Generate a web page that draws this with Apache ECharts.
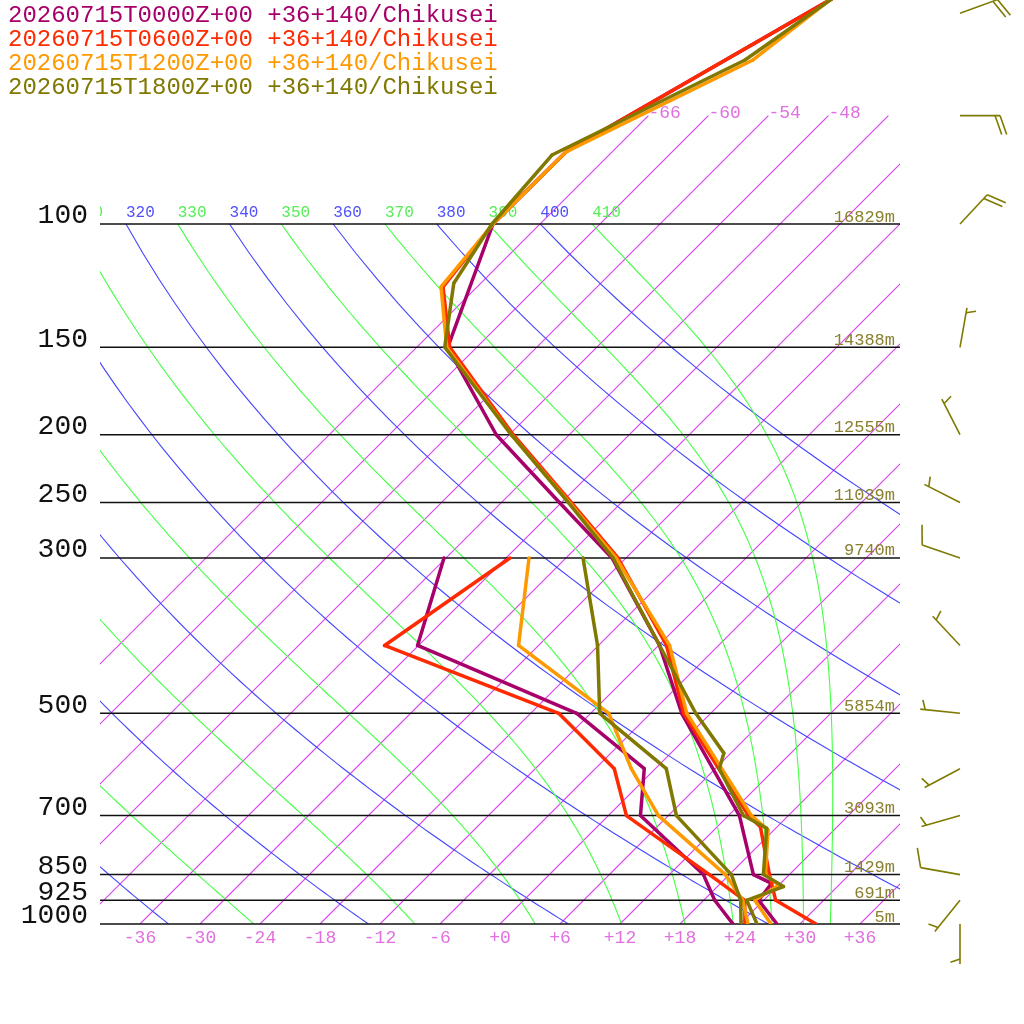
<!DOCTYPE html>
<html>
<head>
<meta charset="utf-8">
<script src="https://cdn.jsdelivr.net/npm/echarts@6/dist/echarts.min.js"></script>
<style>
  html, body { margin: 0; padding: 0; background: #fff; }
  #main { width: 1024px; height: 1024px; }
</style>
</head>
<body>
<div id="main"></div>
<script>
// standard levels drawn as horizontal lines, with their heights
const levels = [100, 150, 200, 250, 300, 500, 700, 850, 925, 1000];
const heights = ['16829m', '14388m', '12555m', '11039m', '9740m', '5854m', '3093m', '1429m', '691m', '5m'];

const titles = [
  '20260715T0000Z+00 +36+140/Chikusei',
  '20260715T0600Z+00 +36+140/Chikusei',
  '20260715T1200Z+00 +36+140/Chikusei',
  '20260715T1800Z+00 +36+140/Chikusei'
];
const colors = ['#a8006a', '#ff2a00', '#ff9900', '#807800'];

// temperature profiles (hPa, degC)
const tempP00 = [42, 78.8, 100, 150, 200, 250, 300, 400, 500, 700, 850, 875, 925, 1000];
const tempT00 = [-56.5, -70.6, -70.7, -62.9, -49.3, -36.2, -25.4, -11.9, -2.9, 13.1, 20.4, 23.1, 23.5, 27.7];
const tempP06 = [42, 78.8, 100, 123, 150, 200, 250, 300, 400, 500, 700, 726, 850, 925, 1000];
const tempT06 = [-56.5, -70.6, -70.7, -69.4, -62.7, -47.6, -35.0, -24.8, -11.2, -2.7, 14.0, 16.3, 22.0, 25.2, 31.6];
const tempP12 = [42, 58.3, 78.8, 100, 123, 150, 200, 250, 300, 400, 500, 700, 734, 850, 880, 925, 1000];
const tempT12 = [-58.3, -61.1, -70.6, -70.7, -69.6, -63.0, -47.8, -35.2, -25.0, -10.9, -2.4, 14.3, 17.4, 21.6, 24.0, 23.1, 27.1];
const tempP18 = [42, 58.3, 79.7, 100, 121.5, 150, 200, 250, 300, 500, 570, 600, 700, 730, 850, 884, 925, 1000];
const tempT18 = [-57.7, -61.9, -71.7, -70.8, -68.7, -63.2, -47.8, -35.3, -25.3, -1.5, 5.3, 6.4, 13.5, 17.1, 21.4, 24.6, 22.3, 25.7];

// dewpoint profiles
const dewP = [300, 400, 500, 600, 700, 850, 925, 1000];
const dewT00 = [-42.2, -36.1, -13.4, -1.1, 3.2, 15.4, 19.1, 23.3];
const dewT06 = [-35.6, -39.4, -15.2, -4.1, 1.8, 16.0, 22.1, 24.5];
const dewT12 = [-33.7, -26.0, -10.2, -2.4, 5.0, 17.6, 21.9, 24.8];
const dewT18 = [-28.3, -18.1, -11.1, 1.1, 6.8, 18.2, 21.7, 24.1];

// winds (1800Z)
const windP = [50, 70, 100, 150, 200, 250, 300, 400, 500, 600, 700, 850, 925, 1000];
const windDir = [70, 90, 43, 10, 333, 297, 289, 317, 276, 242, 254, 280, 219, 180];
const windSpd = [20, 20, 20, 5, 5, 5, 10, 5, 5, 5, 5, 10, 5, 5];

// reference lines of the diagram
const isotherms = [-66, -60, -54, -48, -42, -36, -30, -24, -18, -12, -6, 0, 6, 12, 18, 24, 30, 36];
const dryThetas = [240, 260, 280, 300, 320, 340, 360, 380, 400];
const moistThetas = [250, 270, 290, 310, 330, 350, 370, 390, 410];

const MONO = '"Liberation Mono", "DejaVu Sans Mono", monospace';

// dry adiabat: T = theta * (p/1000)^k
function dryLine(theta) {
  const pts = [];
  for (let p = 100; p <= 1000; p += 10) {
    pts.push([theta * Math.pow(p / 1000, 0.2857) - 273.15, p]);
  }
  return pts;
}

// pseudo-adiabatic lapse rate dT/dp
function moistRate(T, p) {
  const tc = T - 273.15;
  const es = 6.112 * Math.exp(17.67 * tc / (tc + 243.5));
  const rs = 0.622 * es / (p - es);
  const Rd = 287.04, Cp = 1005.7, L = 2.501e6;
  return (Rd * T + L * rs) / (p * (Cp + L * L * rs * 0.622 / (Rd * T * T)));
}

function moistLine(theta) {
  let p = 100;
  let T = theta * Math.pow(p / 1000, 0.2857);
  const pts = [[T - 273.15, p]];
  const dp = 5;
  while (p < 1000) {
    const k1 = moistRate(T, p);
    const k2 = moistRate(T + k1 * dp / 2, p + dp / 2);
    T += k2 * dp;
    p += dp;
    pts.push([T - 273.15, p]);
  }
  return pts;
}

const isoLines = isotherms.map(t => [[t, 70], [t, 1000]]);
const dryLines = dryThetas.map(dryLine);
const moistLines = moistThetas.map(moistLine);

// skew: isotherms lean 45 degrees
const skew = (api, t, p) => {
  const a = api.coord([t, p]);
  const b = api.coord([t, 1000]);
  return [a[0] + (b[1] - a[1]), a[1]];
};

const empty = { type: 'group', children: [] };

function profile(P, T, color, z) {
  return {
    type: 'custom',
    clip: true,
    silent: true,
    z,
    data: P.map((p, i) => [T[i], p]),
    renderItem(params, api) {
      const i = params.dataIndex;
      if (i === 0) return empty;
      const a = skew(api, T[i - 1], P[i - 1]);
      const b = skew(api, api.value(0), api.value(1));
      return {
        type: 'polyline',
        shape: { points: [a, b] },
        style: { stroke: color, lineWidth: 3.5, lineCap: 'round', fill: null }
      };
    }
  };
}

// a family of thin reference lines, each labelled at its upper end
function family(keys, lines, color, labelColor, font, label) {
  return {
    type: 'custom',
    clip: true,
    silent: true,
    z: 1,
    data: lines.map(l => l[0]),
    renderItem(params, api) {
      const pts = lines[params.dataIndex].map(q => skew(api, q[0], q[1]));
      const children = [
        { type: 'polyline', shape: { points: pts }, style: { stroke: color, lineWidth: 1.1, fill: null } }
      ];
      const lab = label(pts[0], params.coordSys);
      if (lab) {
        children.push({
          type: 'text', x: lab[0], y: lab[1],
          style: { text: String(keys[params.dataIndex]), fill: labelColor, font, align: 'left', verticalAlign: lab[2] }
        });
      }
      return { type: 'group', children };
    }
  };
}

const chart = echarts.init(document.getElementById('main'));

const option = {
  animation: false,
  backgroundColor: '#fff',
  title: titles.map((t, i) => ({
    text: t,
    left: 8,
    top: 4 + 24 * i,
    padding: 0,
    textStyle: { color: colors[i], fontFamily: MONO, fontSize: 24, fontWeight: 'normal' }
  })),
  grid: { left: 100, right: 124, top: 0, bottom: 100, outerBoundsMode: 'none' },
  xAxis: {
    type: 'value',
    min: -40,
    max: 40,
    interval: 2,
    axisLine: { show: false },
    axisTick: { show: false },
    splitLine: { show: false },
    axisLabel: {
      interval: 0,
      margin: 5,
      color: '#e070e0',
      fontFamily: MONO,
      fontSize: 18,
      formatter: v => (v % 6 === 0 ? (v >= 0 ? '+' + v : String(v)) : '')
    }
  },
  yAxis: {
    type: 'log',
    min: 47.86,
    max: 1000,
    inverse: true,
    show: false
  },
  series: [
    family(isotherms, isoLines, '#d840ee', '#e070e0', '18px ' + MONO,
      (p, cs) => (p[0] + 36 <= cs.x + cs.width && p[0] >= cs.x ? [p[0], p[1] - 2, 'middle'] : null)),
    family(dryThetas, dryLines, '#4444ff', '#5050ff', '16px ' + MONO, p => [p[0], p[1] - 3, 'bottom']),
    family(moistThetas, moistLines, '#44ff44', '#55ee55', '16px ' + MONO, p => [p[0], p[1] - 3, 'bottom']),
    // pressure levels
    {
      type: 'custom',
      clip: false,
      silent: true,
      z: 2,
      data: levels.map(p => [0, p]),
      renderItem(params, api) {
        const y = api.coord([0, api.value(1)])[1];
        const x0 = params.coordSys.x;
        const x1 = x0 + params.coordSys.width;
        return {
          type: 'group',
          children: [
            { type: 'polyline', shape: { points: [[x0, y], [x1, y]] }, style: { stroke: '#111', lineWidth: 1.5, fill: null } },
            {
              type: 'text', x: x0 - 12, y: y - 8,
              style: { text: String(levels[params.dataIndex]), fill: '#111', font: '28px ' + MONO, align: 'right', verticalAlign: 'middle' }
            },
            {
              type: 'text', x: x1 - 5, y: y - 7,
              style: { text: heights[params.dataIndex], fill: '#8a8030', font: '17px ' + MONO, align: 'right', verticalAlign: 'middle' }
            }
          ]
        };
      }
    },
    profile(dewP, dewT00, colors[0], 3),
    profile(tempP00, tempT00, colors[0], 3),
    profile(dewP, dewT06, colors[1], 4),
    profile(tempP06, tempT06, colors[1], 4),
    profile(dewP, dewT12, colors[2], 5),
    profile(tempP12, tempT12, colors[2], 5),
    profile(dewP, dewT18, colors[3], 6),
    profile(tempP18, tempT18, colors[3], 6),
    // wind barbs
    {
      type: 'custom',
      clip: false,
      silent: true,
      z: 6,
      data: windP.map((p, i) => [windSpd[i], p]),
      renderItem(params, api) {
        const spd = api.value(0);
        const y = api.coord([0, api.value(1)])[1];
        const x = params.coordSys.x + params.coordSys.width + 60;
        const rad = windDir[params.dataIndex] * Math.PI / 180;
        const u = [Math.sin(rad), -Math.cos(rad)];
        const n = [-u[1], u[0]];
        const tip = [x + u[0] * 40, y + u[1] * 40];
        const st = { stroke: '#7f7a00', lineWidth: 1.6, fill: null };
        const seg = (p0, p1) => ({ type: 'polyline', shape: { points: [p0, p1] }, style: st });
        const children = [seg([x, y], tip)];
        let rest = spd, pos = 0;
        while (rest >= 10) {
          const s = [tip[0] - u[0] * pos, tip[1] - u[1] * pos];
          children.push(seg(s, [s[0] + n[0] * 19 + u[0] * 6.7, s[1] + n[1] * 19 + u[1] * 6.7]));
          pos += 5;
          rest -= 10;
        }
        if (rest >= 5) {
          if (pos === 0) pos = 5;
          const s = [tip[0] - u[0] * pos, tip[1] - u[1] * pos];
          children.push(seg(s, [s[0] + n[0] * 9.5 + u[0] * 3.3, s[1] + n[1] * 9.5 + u[1] * 3.3]));
        }
        return { type: 'group', children };
      }
    }
  ]
};

chart.setOption(option);
</script>
</body>
</html>
